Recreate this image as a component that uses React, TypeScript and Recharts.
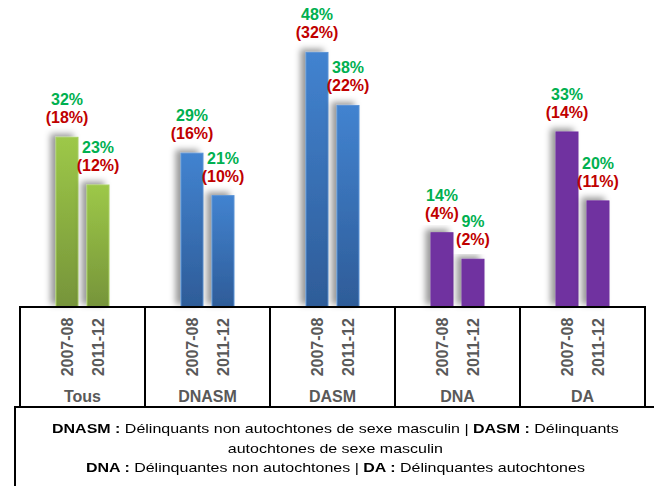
import { Bar, BarChart, Cell, LabelList, XAxis, YAxis } from "recharts";

const groups = ["Tous", "DNASM", "DASM", "DNA", "DA"];
const periods = ["2007-08", "2011-12"];
const pct0708 = [32, 29, 48, 14, 33];
const pct1112 = [23, 21, 38, 9, 20];
const sub0708 = [18, 16, 32, 4, 14];
const sub1112 = [12, 10, 22, 2, 11];
const groupColor = ["green", "blue", "blue", "purple", "purple"];

const BAR = 22;
const GAP = 9;
const W = 654;
const H = 486;
const FONT = "'Liberation Sans', Arial, sans-serif";

const data = groups.map((g, i) => ({
  group: g,
  p1: pct0708[i],
  p2: pct1112[i],
  color: groupColor[i],
}));

const FILL: Record<string, string> = {
  green: "url(#gGreen)",
  blue: "url(#gBlue)",
  purple: "#7030A0",
};
const EDGE: Record<string, string> = {
  green: "#A8CF62",
  blue: "#5B93D6",
  purple: "#7030A0",
};

function makeLabel(subs: number[]) {
  return (props: any) => {
    const { x, y, width, value, index } = props;
    const cx = Number(x) + Number(width) / 2;
    const top = Number(y);
    return (
      <g fontFamily={FONT} fontWeight="bold" fontSize={16} textAnchor="middle">
        <text x={cx} y={top - 32} fill="#00B050">
          {value}%
        </text>
        <text x={cx} y={top - 14} fill="#C00000">
          ({subs[index]}%)
        </text>
      </g>
    );
  };
}

function GroupTick(props: any) {
  const { x, y, payload } = props;
  const cw = 125;
  const off = (BAR + GAP) / 2;
  return (
    <g fontFamily={FONT} fontWeight="bold" fill="#595959">
      <rect x={x - cw / 2} y={y} width={cw} height={100} fill="none" stroke="#000" strokeWidth={2} />
      {periods.map((p, k) => {
        const px = x + (k === 0 ? -off : off);
        return (
          <text
            key={p}
            x={px}
            y={y + 40}
            fontSize={16}
            textAnchor="middle"
            dominantBaseline="central"
            transform={`rotate(-90 ${px} ${y + 40})`}
          >
            {p}
          </text>
        );
      })}
      <text x={x} y={y + 95} fontSize={16} textAnchor="middle">
        {payload.value}
      </text>
    </g>
  );
}

function ShadowBar(props: any) {
  const { x, y, width, height, fill, stroke } = props;
  if (!height || height <= 0) return null;
  return (
    <rect
      x={x}
      y={y}
      width={width}
      height={height}
      fill={fill}
      stroke={stroke}
      strokeWidth={1}
      filter="url(#barShadow)"
    />
  );
}

export default function App() {
  return (
    <div style={{ position: "absolute", left: 0, top: 0, width: W, height: H, background: "#fff", overflow: "hidden" }}>
      <BarChart
        width={W}
        height={H}
        data={data}
        margin={{ top: 10, right: 9, left: 20, bottom: 79 }}
        barSize={BAR}
        barGap={GAP}
        barCategoryGap="28%"
      >
        <defs>
          <linearGradient id="gGreen" x1="0" y1="0" x2="0" y2="1">
            <stop offset="0%" stopColor="#9DC848" />
            <stop offset="100%" stopColor="#76943A" />
          </linearGradient>
          <linearGradient id="gBlue" x1="0" y1="0" x2="0" y2="1">
            <stop offset="0%" stopColor="#4283D0" />
            <stop offset="100%" stopColor="#2E5C98" />
          </linearGradient>
          <filter id="barShadow" x="-60%" y="-10%" width="220%" height="130%">
            <feDropShadow dx={-5} dy={-3} stdDeviation={3} floodColor="#000" floodOpacity={0.4} />
          </filter>
        </defs>
        <XAxis
          dataKey="group"
          axisLine={false}
          tickLine={false}
          tickSize={0}
          tickMargin={0}
          height={100}
          interval={0}
          tick={<GroupTick />}
        />
        <YAxis hide domain={[0, 56]} />
        <Bar dataKey="p1" isAnimationActive={false} shape={<ShadowBar />}>
          {data.map((d, i) => (
            <Cell key={`a${i}`} fill={FILL[d.color]} stroke={EDGE[d.color]} />
          ))}
          <LabelList dataKey="p1" content={makeLabel(sub0708)} />
        </Bar>
        <Bar dataKey="p2" isAnimationActive={false} shape={<ShadowBar />}>
          {data.map((d, i) => (
            <Cell key={`b${i}`} fill={FILL[d.color]} stroke={EDGE[d.color]} />
          ))}
          <LabelList dataKey="p2" content={makeLabel(sub1112)} />
        </Bar>
      </BarChart>
      <div
        style={{
          position: "absolute",
          left: 14,
          top: 406,
          width: 642,
          height: 90,
          border: "2px solid #000",
          boxSizing: "border-box",
          background: "#fff",
          fontFamily: FONT,
          fontSize: 13,
          lineHeight: "19.5px",
          textAlign: "center",
          paddingTop: 11,
          color: "#000",
        }}
      >
        <div style={{ display: "inline-block", transform: "scaleX(1.23)", transformOrigin: "50% 0" }}>
          <b>DNASM :</b> Délinquants non autochtones de sexe masculin | <b>DASM :</b> Délinquants
          <br />
          autochtones de sexe masculin
          <br />
          <b>DNA :</b> Délinquantes non autochtones | <b>DA :</b> Délinquantes autochtones
        </div>
      </div>
    </div>
  );
}
